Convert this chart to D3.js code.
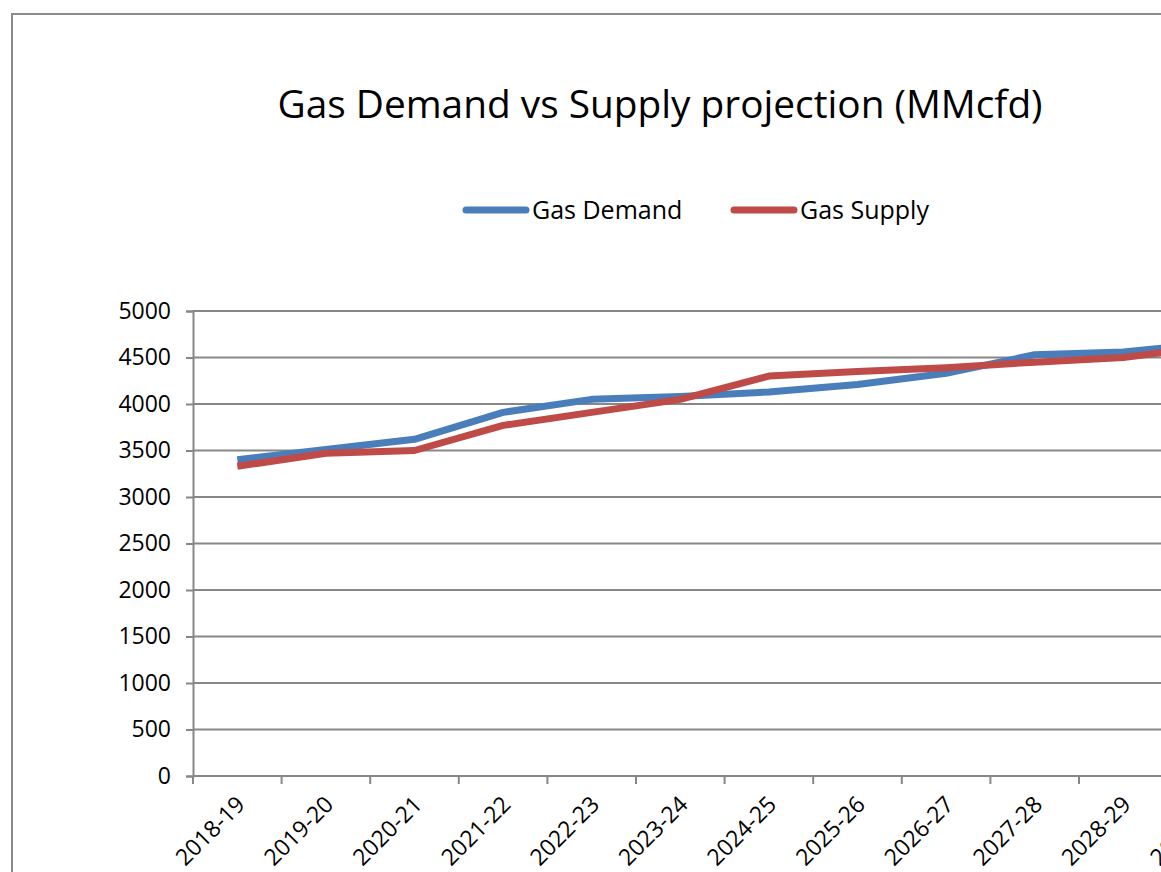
<!DOCTYPE html>
<html lang="en">
<head>
  <meta charset="UTF-8">
  <title>Gas Demand vs Supply projection</title>
  <script src="https://d3js.org/d3.v7.min.js"></script>
  <style>
    body {
      margin: 0;
      padding: 0;
      background-color: #fff;
      overflow: hidden;
      font-family: "Open Sans", "Noto Sans", sans-serif;
    }
    #chart { display: block; }
  </style>
</head>
<body>
  <svg id="chart"></svg>

  <script>
    // Data
    const years = ["2018-19", "2019-20", "2020-21", "2021-22", "2022-23", "2023-24",
                   "2024-25", "2025-26", "2026-27", "2027-28", "2028-29", "2029-30"];
    const gasDemand = [3400, 3510, 3620, 3910, 4050, 4080, 4130, 4210, 4330, 4530, 4560, 4650];
    const gasSupply = [3330, 3470, 3500, 3770, 3910, 4050, 4300, 4350, 4390, 4450, 4500, 4620];
    const yTicks = [0, 500, 1000, 1500, 2000, 2500, 3000, 3500, 4000, 4500, 5000];

    const seriesList = [
      { name: "Gas Demand", values: gasDemand, color: "#4a7ebb" },
      { name: "Gas Supply", values: gasSupply, color: "#be4b48" }
    ];

    const width = 1161, height = 872;
    const svg = d3.select("#chart")
      .attr("width", width)
      .attr("height", height);

    // Outer chart frame (chart runs past the right/bottom edge of the window)
    svg.append("rect")
      .attr("x", 12).attr("y", 14)
      .attr("width", 1296).attr("height", 1000)
      .attr("fill", "#fff")
      .attr("stroke", "#8c8c8c")
      .attr("stroke-width", 2);

    // Title
    svg.append("text")
      .attr("x", 660).attr("y", 118)
      .attr("text-anchor", "middle")
      .attr("font-size", "38.8px")
      .attr("fill", "#000")
      .text("Gas Demand vs Supply projection (MMcfd)");

    // Legend
    const legendPos = [463, 731];
    seriesList.forEach((s, i) => {
      const g = svg.append("g").attr("transform", `translate(${legendPos[i]},210)`);
      g.append("line")
        .attr("x1", 3).attr("x2", 63)
        .attr("stroke", s.color)
        .attr("stroke-width", 7)
        .attr("stroke-linecap", "round");
      g.append("text")
        .attr("x", 69).attr("y", 9)
        .attr("font-size", "25px")
        .attr("fill", "#000")
        .text(s.name);
    });

    // Plot area
    const plotLeft = 193, plotTop = 311, plotBottom = 776;
    const band = 88.6;
    const x = d3.scaleBand()
      .domain(years)
      .range([plotLeft, plotLeft + band * years.length]);
    const y = d3.scaleLinear()
      .domain([0, 5000])
      .range([plotBottom, plotTop]);

    // Gridlines
    svg.append("g")
      .selectAll("line")
      .data(yTicks.filter(t => t > 0))
      .join("line")
      .attr("x1", plotLeft).attr("x2", x.range()[1])
      .attr("y1", d => y(d)).attr("y2", d => y(d))
      .attr("stroke", "#878787")
      .attr("stroke-width", 2);

    // Y axis
    const yAxis = svg.append("g")
      .attr("transform", `translate(${plotLeft},0)`)
      .call(d3.axisLeft(y).tickValues(yTicks).tickFormat(d3.format("d"))
        .tickSize(7).tickPadding(15));
    yAxis.select(".domain").attr("stroke", "#878787").attr("stroke-width", 2);
    yAxis.selectAll(".tick line").attr("stroke", "#878787").attr("stroke-width", 2);
    yAxis.selectAll(".tick text")
      .attr("font-size", "23px")
      .attr("font-family", "'Open Sans', sans-serif")
      .attr("fill", "#000");

    // X axis: ticks at band edges, labels at band centres
    const xg = svg.append("g");
    xg.append("line")
      .attr("x1", plotLeft).attr("x2", x.range()[1])
      .attr("y1", plotBottom).attr("y2", plotBottom)
      .attr("stroke", "#878787").attr("stroke-width", 2);
    xg.selectAll("line.tick")
      .data(years)
      .join("line")
      .attr("class", "tick")
      .attr("x1", d => x(d)).attr("x2", d => x(d))
      .attr("y1", plotBottom).attr("y2", plotBottom + 8)
      .attr("stroke", "#878787").attr("stroke-width", 2);
    xg.selectAll("text")
      .data(years)
      .join("text")
      .attr("transform", d => `translate(${x(d) + x.bandwidth() / 2 + 9},${plotBottom + 30}) rotate(-45)`)
      .attr("text-anchor", "end")
      .attr("font-size", "23px")
      .attr("fill", "#000")
      .text(d => d);

    // Lines
    const line = d3.line()
      .x((d, i) => x(years[i]) + x.bandwidth() / 2)
      .y(d => y(d));

    seriesList.forEach(s => {
      svg.append("path")
        .datum(s.values)
        .attr("fill", "none")
        .attr("stroke", s.color)
        .attr("stroke-width", 7)
        .attr("stroke-linejoin", "round")
        .attr("d", line);
    });
  </script>
</body>
</html>
